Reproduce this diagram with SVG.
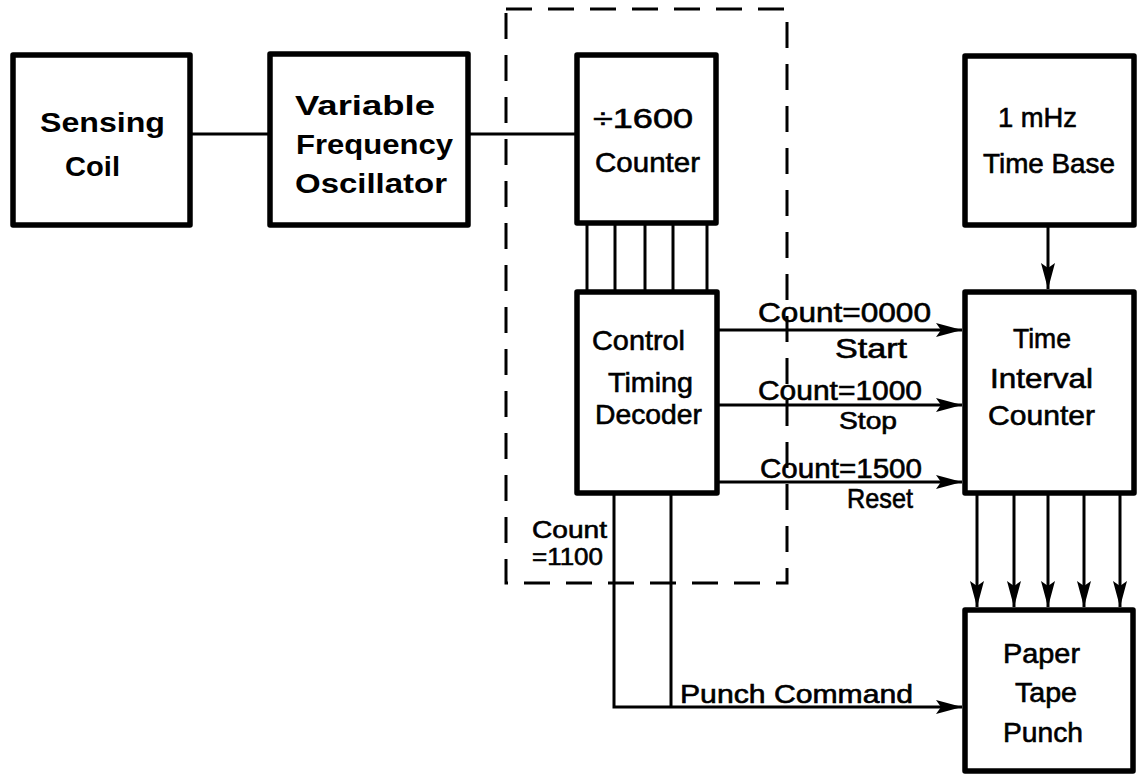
<svg xmlns="http://www.w3.org/2000/svg" width="1140" height="776" viewBox="0 0 1140 776">
<style>
.box{fill:none;stroke:#000;stroke-width:5.5;stroke-linejoin:round}
.ln{fill:none;stroke:#000;stroke-width:3}
.dash{fill:none;stroke:#000;stroke-width:3;stroke-dasharray:26 16}
text{font-family:"Liberation Sans",Arial,sans-serif;font-size:28px;fill:#000;stroke:#000;stroke-width:0.6}
.b{font-weight:bold;stroke-width:0}
.s{font-size:26px}
.m{font-size:27px}
.t{font-size:24px}
</style>
<defs>
<marker id="ah" markerWidth="26" markerHeight="16" refX="26" refY="8" orient="auto" markerUnits="userSpaceOnUse">
<path d="M0,1 L26,8 L0,15 L5,8 Z" fill="#000"/>
</marker>
</defs>
<rect width="1140" height="776" fill="#fff"/>
<rect id="control-boundary" class="dash" x="506" y="9" width="281" height="574"/>
<g id="connectors">
<line class="ln" x1="190" y1="134" x2="270" y2="134"/>
<line class="ln" x1="468" y1="134" x2="577" y2="134"/>
<line class="ln" x1="587" y1="223" x2="587" y2="292"/>
<line class="ln" x1="615" y1="223" x2="615" y2="292"/>
<line class="ln" x1="645" y1="223" x2="645" y2="292"/>
<line class="ln" x1="673" y1="223" x2="673" y2="292"/>
<line class="ln" x1="707" y1="223" x2="707" y2="292"/>
<line class="ln" x1="717" y1="330" x2="962" y2="330" marker-end="url(#ah)"/>
<line class="ln" x1="717" y1="405" x2="962" y2="405" marker-end="url(#ah)"/>
<line class="ln" x1="717" y1="482" x2="962" y2="482" marker-end="url(#ah)"/>
<line class="ln" x1="1048" y1="225" x2="1048" y2="289" marker-end="url(#ah)"/>
<line class="ln" x1="977" y1="493" x2="977" y2="607" marker-end="url(#ah)"/>
<line class="ln" x1="1014" y1="493" x2="1014" y2="607" marker-end="url(#ah)"/>
<line class="ln" x1="1048" y1="493" x2="1048" y2="607" marker-end="url(#ah)"/>
<line class="ln" x1="1084" y1="493" x2="1084" y2="607" marker-end="url(#ah)"/>
<line class="ln" x1="1120" y1="493" x2="1120" y2="607" marker-end="url(#ah)"/>
<polyline class="ln" points="614,493 614,707 962,707" marker-end="url(#ah)"/>
<line class="ln" x1="671" y1="493" x2="671" y2="707"/>
<text x="758" y="322" textLength="173" lengthAdjust="spacingAndGlyphs">Count=0000</text>
<text x="835" y="358" textLength="72" lengthAdjust="spacingAndGlyphs">Start</text>
<text class="m" x="758" y="400" textLength="164" lengthAdjust="spacingAndGlyphs">Count=1000</text>
<text class="t" x="839" y="429" textLength="58" lengthAdjust="spacingAndGlyphs">Stop</text>
<text x="760" y="478" textLength="162" lengthAdjust="spacingAndGlyphs">Count=1500</text>
<text x="847" y="508" textLength="66" lengthAdjust="spacingAndGlyphs">Reset</text>
<text class="t" x="532" y="538" textLength="75" lengthAdjust="spacingAndGlyphs">Count</text>
<text class="t" x="532" y="565" textLength="71" lengthAdjust="spacingAndGlyphs">=1100</text>
<text class="s" x="680" y="703" textLength="233" lengthAdjust="spacingAndGlyphs">Punch Command</text>
</g>
<g id="sensing-coil">
<rect class="box" x="13" y="55" width="177" height="170"/>
<text class="b" x="40" y="132" textLength="125" lengthAdjust="spacingAndGlyphs">Sensing</text>
<text class="b" x="65" y="176" textLength="55" lengthAdjust="spacingAndGlyphs">Coil</text>
</g>
<g id="vfo">
<rect class="box" x="270" y="54" width="198" height="171"/>
<text class="b" x="295" y="115" textLength="140" lengthAdjust="spacingAndGlyphs">Variable</text>
<text class="b" x="296" y="154" textLength="157" lengthAdjust="spacingAndGlyphs">Frequency</text>
<text class="b" x="295" y="193" textLength="152" lengthAdjust="spacingAndGlyphs">Oscillator</text>
</g>
<g id="counter-1600">
<rect class="box" x="577" y="55" width="139" height="168"/>
<text x="593" y="128" textLength="100" lengthAdjust="spacingAndGlyphs">÷1600</text>
<text x="595" y="172" textLength="105" lengthAdjust="spacingAndGlyphs">Counter</text>
</g>
<g id="decoder">
<rect class="box" x="577" y="292" width="140" height="201"/>
<text x="592" y="350" textLength="93" lengthAdjust="spacingAndGlyphs">Control</text>
<text x="608" y="392" textLength="85" lengthAdjust="spacingAndGlyphs">Timing</text>
<text x="595" y="424" textLength="107" lengthAdjust="spacingAndGlyphs">Decoder</text>
</g>
<g id="time-base">
<rect class="box" x="965" y="56" width="169" height="169"/>
<text x="998" y="127" textLength="79" lengthAdjust="spacingAndGlyphs">1 mHz</text>
<text x="983" y="173" textLength="132" lengthAdjust="spacingAndGlyphs">Time Base</text>
</g>
<g id="time-interval-counter">
<rect class="box" x="965" y="292" width="169" height="201"/>
<text x="1013" y="348" textLength="58" lengthAdjust="spacingAndGlyphs">Time</text>
<text x="990" y="388" textLength="103" lengthAdjust="spacingAndGlyphs">Interval</text>
<text x="988" y="425" textLength="107" lengthAdjust="spacingAndGlyphs">Counter</text>
</g>
<g id="paper-tape-punch">
<rect class="box" x="965" y="610" width="168" height="161"/>
<text x="1003" y="663" textLength="77" lengthAdjust="spacingAndGlyphs">Paper</text>
<text x="1015" y="702" textLength="62" lengthAdjust="spacingAndGlyphs">Tape</text>
<text x="1003" y="742" textLength="80" lengthAdjust="spacingAndGlyphs">Punch</text>
</g>
</svg>
